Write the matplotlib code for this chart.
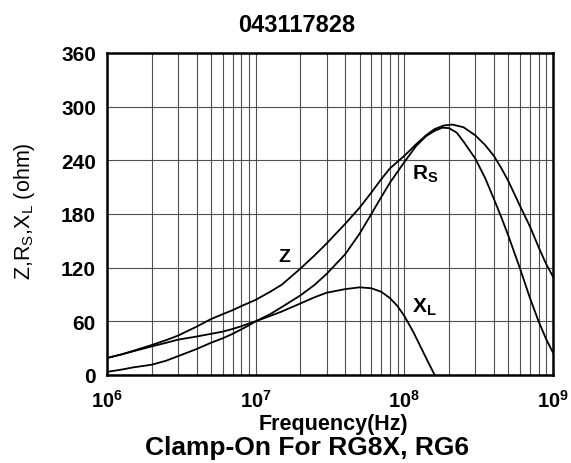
import matplotlib
matplotlib.use("Agg")
import matplotlib.pyplot as plt

plt.rcParams['font.family'] = ['Liberation Sans', 'DejaVu Sans']
plt.rcParams['mathtext.fontset'] = 'custom'
plt.rcParams['mathtext.rm'] = 'Liberation Sans'
plt.rcParams['mathtext.bf'] = 'Liberation Sans:bold'
plt.rcParams['mathtext.it'] = 'Liberation Sans'

# values (frequency in Hz, impedance in ohm)
freq_z = [1e6, 1.25e6, 1.5e6, 2e6, 2.5e6, 3e6, 4e6, 5e6, 6e6, 7e6, 8e6, 1e7,
          1.25e7, 1.5e7, 2e7, 2.5e7, 3e7, 4e7, 5e7, 6e7, 7e7, 8e7, 1e8,
          1.2e8, 1.4e8, 1.6e8, 1.85e8, 2.1e8, 2.5e8, 3e8, 3.5e8, 4e8, 4.5e8,
          5e8, 6e8, 7e8, 8e8, 9e8, 1e9]
z_vals = [19, 23, 27, 33.5, 39, 44, 54, 62.5, 68, 72.5, 77, 84,
          93, 101, 119, 134, 147, 169, 187, 204, 219, 231, 245,
          258, 268, 275, 279, 280, 277, 268, 257, 245, 231,
          217, 189, 166, 143, 124, 110]

freq_rs = [1e6, 1.25e6, 1.5e6, 2e6, 2.5e6, 3e6, 4e6, 5e6, 6e6, 7e6, 8e6, 9e6, 1e7,
           1.25e7, 1.5e7, 2e7, 2.5e7, 3e7, 4e7, 5e7, 6e7, 7e7, 8e7, 1e8,
           1.2e8, 1.4e8, 1.6e8, 1.8e8, 2e8, 2.25e8, 2.5e8, 3e8, 3.5e8, 4e8,
           4.5e8, 5e8, 6e8, 7e8, 8e8, 9e8, 1e9]
rs_vals = [3.5, 6, 8.5, 11.5, 16, 21, 29, 36, 41, 46, 51, 55.5, 60,
           68, 76, 89, 101, 113, 135, 158, 180, 199, 215, 238,
           256, 267, 273, 276.5, 276, 271, 261, 242, 220, 197,
           176, 156, 119, 86, 60, 40, 25]

freq_xl = [1e6, 1.25e6, 1.5e6, 2e6, 2.5e6, 3e6, 4e6, 5e6, 6e6, 7e6, 8e6, 9e6, 1e7,
           1.25e7, 1.5e7, 2e7, 2.5e7, 3e7, 4e7, 5e7, 6e7, 7e7, 8e7, 9e7, 1e8,
           1.15e8, 1.3e8, 1.45e8, 1.6e8]
xl_vals = [19, 23, 26.5, 32, 36, 39.5, 43, 46, 48.5, 51.5, 54.5, 57.5, 60,
           66, 71, 80, 87, 92, 96, 98, 97, 93, 86, 77, 66,
           48, 30, 14, 0]

yticks = [0, 60, 120, 180, 240, 300, 360]
xticks = [1e6, 1e7, 1e8, 1e9]
xticklabels = [r'$\mathbf{10^{6}}$', r'$\mathbf{10^{7}}$', r'$\mathbf{10^{8}}$', r'$\mathbf{10^{9}}$']

fig = plt.figure(figsize=(5.71, 4.64), dpi=100)
ax = fig.add_axes([107/571, 1-376/464, 446/571, 322/464])

ax.plot(freq_z, z_vals, color='black', lw=1.3)
ax.plot(freq_rs, rs_vals, color='black', lw=1.3)
ax.plot(freq_xl, xl_vals, color='black', lw=1.3)

ax.set_xscale('log')
ax.set_xlim(1e6, 1e9)
ax.set_ylim(0, 360)
ax.set_yticks(yticks)
ax.set_yticklabels([str(v) for v in yticks], fontsize=15, fontweight='bold')
ax.set_xticks(xticks)
ax.set_xticklabels(xticklabels, fontsize=14.5)
ax.tick_params(axis='both', which='both', length=0)
ax.tick_params(axis='y', pad=8)
ax.tick_params(axis='x', pad=10)

ax.grid(True, which='both', axis='x', color='#505050', lw=0.8)
ax.grid(True, which='major', axis='y', color='#505050', lw=0.8)
for s in ax.spines.values():
    s.set_linewidth(1.8)

# curve labels
ax.text(1.57e7, 133, 'Z', fontsize=14, fontweight='bold', ha='center', va='center')
ax.text(1.12e8, 226, r'$\mathbf{R_{S}}$', fontsize=15, ha='left', va='center')
ax.text(1.12e8, 77, r'$\mathbf{X_{L}}$', fontsize=15, ha='left', va='center')

ax.set_ylabel(r'Z,R$_\mathrm{S}$,X$_\mathrm{L}$ (ohm)', fontsize=15.5)
ax.yaxis.set_label_coords(-0.158, 0.512)

fig.text(297/571, 1-25/464, '043117828', fontsize=17, fontweight='bold', ha='center', va='center')
fig.text(333/571, 1-430/464, 'Frequency(Hz)', fontsize=15.5, fontweight='bold', ha='center', va='baseline')
fig.text(307/571, 1-455/464, 'Clamp-On For RG8X, RG6', fontsize=19, fontweight='bold', ha='center', va='baseline')

fig.savefig('out.png', dpi=100)
